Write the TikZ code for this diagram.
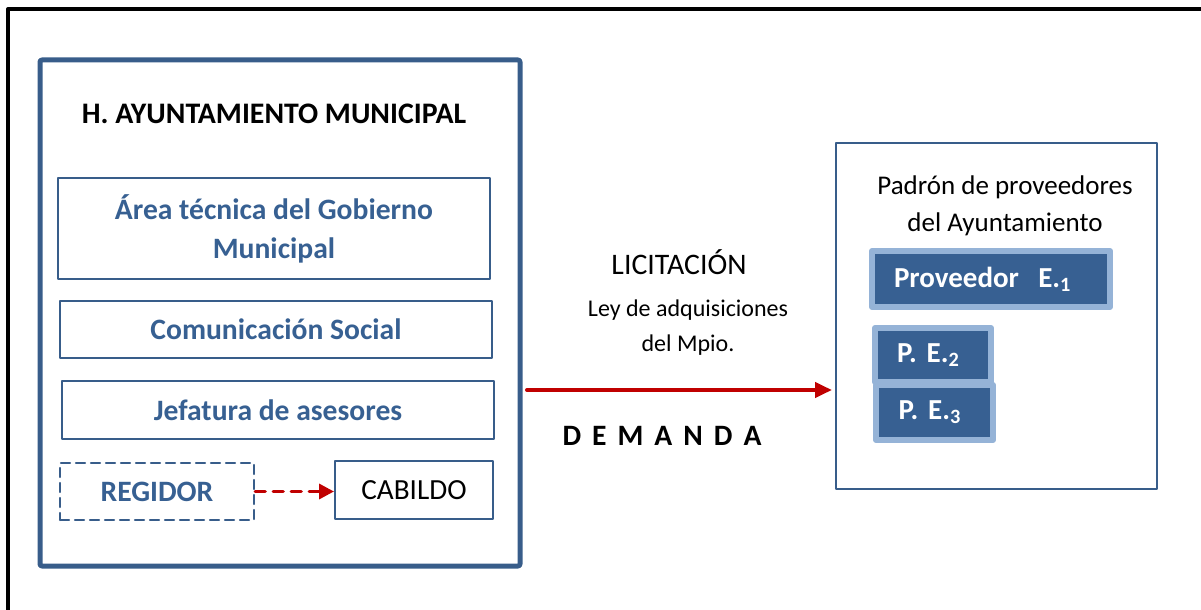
\documentclass[tikz,border=0pt]{standalone}
\usepackage{fontspec}
\setmainfont{Carlito}
\usepackage{tikz}
\usetikzlibrary{arrows.meta}

\definecolor{azul}{HTML}{385D8A}
\definecolor{azultxt}{HTML}{376092}
\definecolor{azulclaro}{HTML}{95B3D7}
\definecolor{rojo}{HTML}{C00000}

\begin{document}
\begin{tikzpicture}[line cap=round,line join=round,x=0.5pt,y=-0.5pt,
  caja/.style={draw=azul,line width=1pt,text=azultxt,align=center,inner sep=0pt,
    font=\fontsize{14.8}{19.5}\selectfont\bfseries},
  prov/.style={draw=azulclaro,fill=azultxt,line width=3pt,text=white,align=left,
    inner sep=0pt,font=\fontsize{14.5}{16}\selectfont\bfseries},
  texto/.style={align=center,inner sep=0pt,font=\fontsize{13.5}{18.5}\selectfont}]
\useasboundingbox (0,0) rectangle (1201,610);
\clip (0,0) rectangle (1201,610);
\draw [line width=2pt] (8,9) rectangle (1215,625);
% ayuntamiento
\node [draw=azul,line width=2.5pt,rounded corners=1pt,minimum width=240pt,minimum height=253pt] (ayto) at (280,313) {};
\node [texto,font=\fontsize{14.9}{16}\selectfont\bfseries] (titulo) at (274,114) {H. AYUNTAMIENTO MUNICIPAL};
\node [caja,minimum width=216pt,minimum height=50.5pt] (area) at (274,228.5) {Área técnica del Gobierno\\Municipal};
\node [caja,minimum width=216pt,minimum height=28.5pt] (comsoc) at (276,329.5) {Comunicación Social};
\node [caja,minimum width=216pt,minimum height=29pt] (jefatura) at (278,410) {Jefatura de asesores};
\node [caja,dashed,dash pattern=on 4.5pt off 3pt,line width=1.2pt,minimum width=97pt,minimum height=28.5pt] (regidor) at (157,491.5) {REGIDOR};
\node [caja,text=black,font=\fontsize{14.6}{16}\selectfont,minimum width=79pt,minimum height=29pt] (cabildo) at (414,490) {CABILDO};
\draw [-{Triangle[length=7.5pt,width=7.5pt]},rojo,line width=1.7pt,dash pattern=on 5pt off 4pt] (regidor.east) -- (regidor.east -| cabildo.west);
% licitacion
\node [texto,font=\fontsize{14.9}{18}\selectfont] (licit) at (679,262) {LICITACIÓN};
\node [texto,font=\fontsize{12}{17.5}\selectfont] (ley) at (688,328) {Ley de adquisiciones\\del Mpio.};
\node [texto,font=\fontsize{14.8}{16}\selectfont\bfseries] (demanda) at (662,436) {D\kern5.5pt E\kern5.5pt M\kern5.5pt A\kern5.5pt N\kern5.5pt D\kern5.5pt A};
% padron
\node [draw=azul,line width=1pt,minimum width=160.5pt,minimum height=173pt] (padron) at (996.5,316) {};
\node [texto] (padrontxt) at (1005,206) {Padrón de proveedores\\del Ayuntamiento};
\node [prov,minimum width=119pt,minimum height=28pt,text width=97pt] (prov1) at (991,279) {Proveedor\ \ E.\textsubscript{1}};
\node [prov,minimum width=58pt,minimum height=27pt,text width=36pt] (pe2) at (933,355) {P. E.\textsubscript{2}};
\node [prov,minimum width=58.5pt,minimum height=27.5pt,text width=36pt] (pe3) at (934.5,412.5) {P. E.\textsubscript{3}};
\coordinate (dem) at (527,390);
\draw [-{Triangle[length=8.5pt,width=7.5pt]},rojo,line width=2pt,shorten >=1.5pt] (dem) -- (dem -| padron.west);
\end{tikzpicture}
\end{document}
